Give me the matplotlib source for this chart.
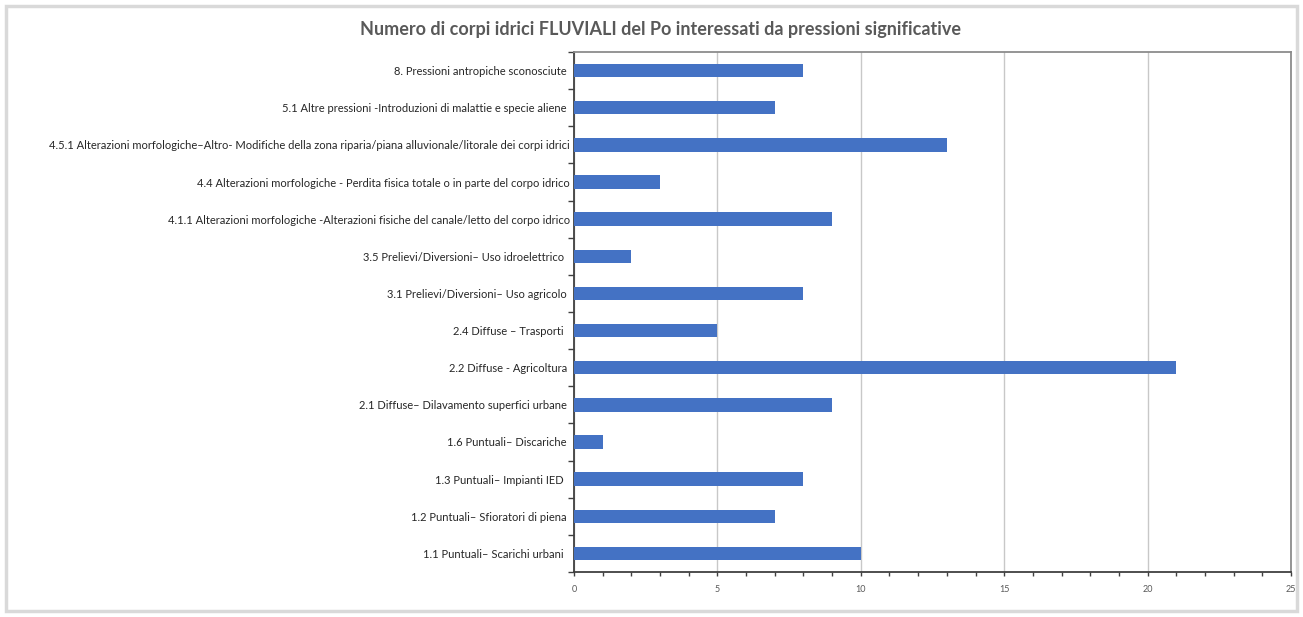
import matplotlib
matplotlib.use("Agg")
import matplotlib.pyplot as plt
from matplotlib.patches import Rectangle
from matplotlib.ticker import MultipleLocator, FixedLocator

categories = [
    "1.1 Puntuali\u2013 Scarichi urbani  ",
    "1.2 Puntuali\u2013 Sfioratori di piena ",
    "1.3 Puntuali\u2013 Impianti IED  ",
    "1.6 Puntuali\u2013 Discariche ",
    "2.1 Diffuse\u2013 Dilavamento superfici urbane ",
    "2.2 Diffuse - Agricoltura ",
    "2.4 Diffuse \u2013 Trasporti  ",
    "3.1 Prelievi/Diversioni\u2013 Uso agricolo ",
    "3.5 Prelievi/Diversioni\u2013 Uso idroelettrico  ",
    "4.1.1 Alterazioni morfologiche -Alterazioni fisiche del canale/letto del corpo idrico",
    "4.4 Alterazioni morfologiche - Perdita fisica totale o in parte del corpo idrico",
    "4.5.1 Alterazioni morfologiche\u2013Altro- Modifiche della zona riparia/piana alluvionale/litorale dei corpi idrici",
    "5.1 Altre pressioni -Introduzioni di malattie e specie aliene ",
    "8. Pressioni antropiche sconosciute ",
]
values = [10, 7, 8, 1, 9, 21, 5, 8, 2, 9, 3, 13, 7, 8]
title = "Numero di corpi idrici FLUVIALI del Po interessati da pressioni significative"
x_ticks = [0, 5, 10, 15, 20, 25]

plt.rcParams['font.family'] = ['Lato', 'DejaVu Sans']

W, H = 1303, 617
fig = plt.figure(figsize=(W / 100, H / 100), dpi=100)
fig.patch.set_facecolor("white")

# outer border
fig.patches.append(Rectangle((6 / W, 6 / H), (W - 12) / W, (H - 12) / H,
                             transform=fig.transFigure, fill=False,
                             edgecolor="#d9d9d9", linewidth=2.5))

ax = fig.add_axes([574 / W, (H - 572) / H, (1291 - 574) / W, (572 - 52) / H])
y = list(range(len(categories)))
ax.barh(y, values, height=0.36, color="#4472C4", zorder=3)
ax.set_ylim(-0.5, len(categories) - 0.5)
ax.set_xlim(0, 25)

ax.set_yticks(y)
ax.set_yticklabels(categories, fontsize=8.0, color="#262626")
ax.yaxis.set_minor_locator(FixedLocator([i + 0.5 for i in range(-1, len(categories))]))
ax.tick_params(axis="y", which="major", length=0, pad=3)
ax.tick_params(axis="y", which="minor", length=4, width=1, color="#404040", direction="out")

ax.set_xticks(x_ticks)
ax.set_xticklabels([str(t) for t in x_ticks], fontsize=6.5, color="#595959")
ax.xaxis.set_minor_locator(MultipleLocator(1))
ax.tick_params(axis="x", which="both", length=3, width=1, color="#404040", direction="out", pad=6)

ax.grid(axis="x", which="major", color="#c8c8c8", linewidth=1, zorder=0)

for side in ["left", "bottom"]:
    ax.spines[side].set_color("#404040")
    ax.spines[side].set_linewidth(1.3)
for side in ["top", "right"]:
    ax.spines[side].set_color("#8c8c8c")
    ax.spines[side].set_linewidth(1.3)

fig.text(661 / W, 1 - 30 / H, title, ha="center", va="center",
         fontsize=13.0, fontweight="bold", color="#595959")

fig.savefig("out.png", dpi=100, facecolor="white")
